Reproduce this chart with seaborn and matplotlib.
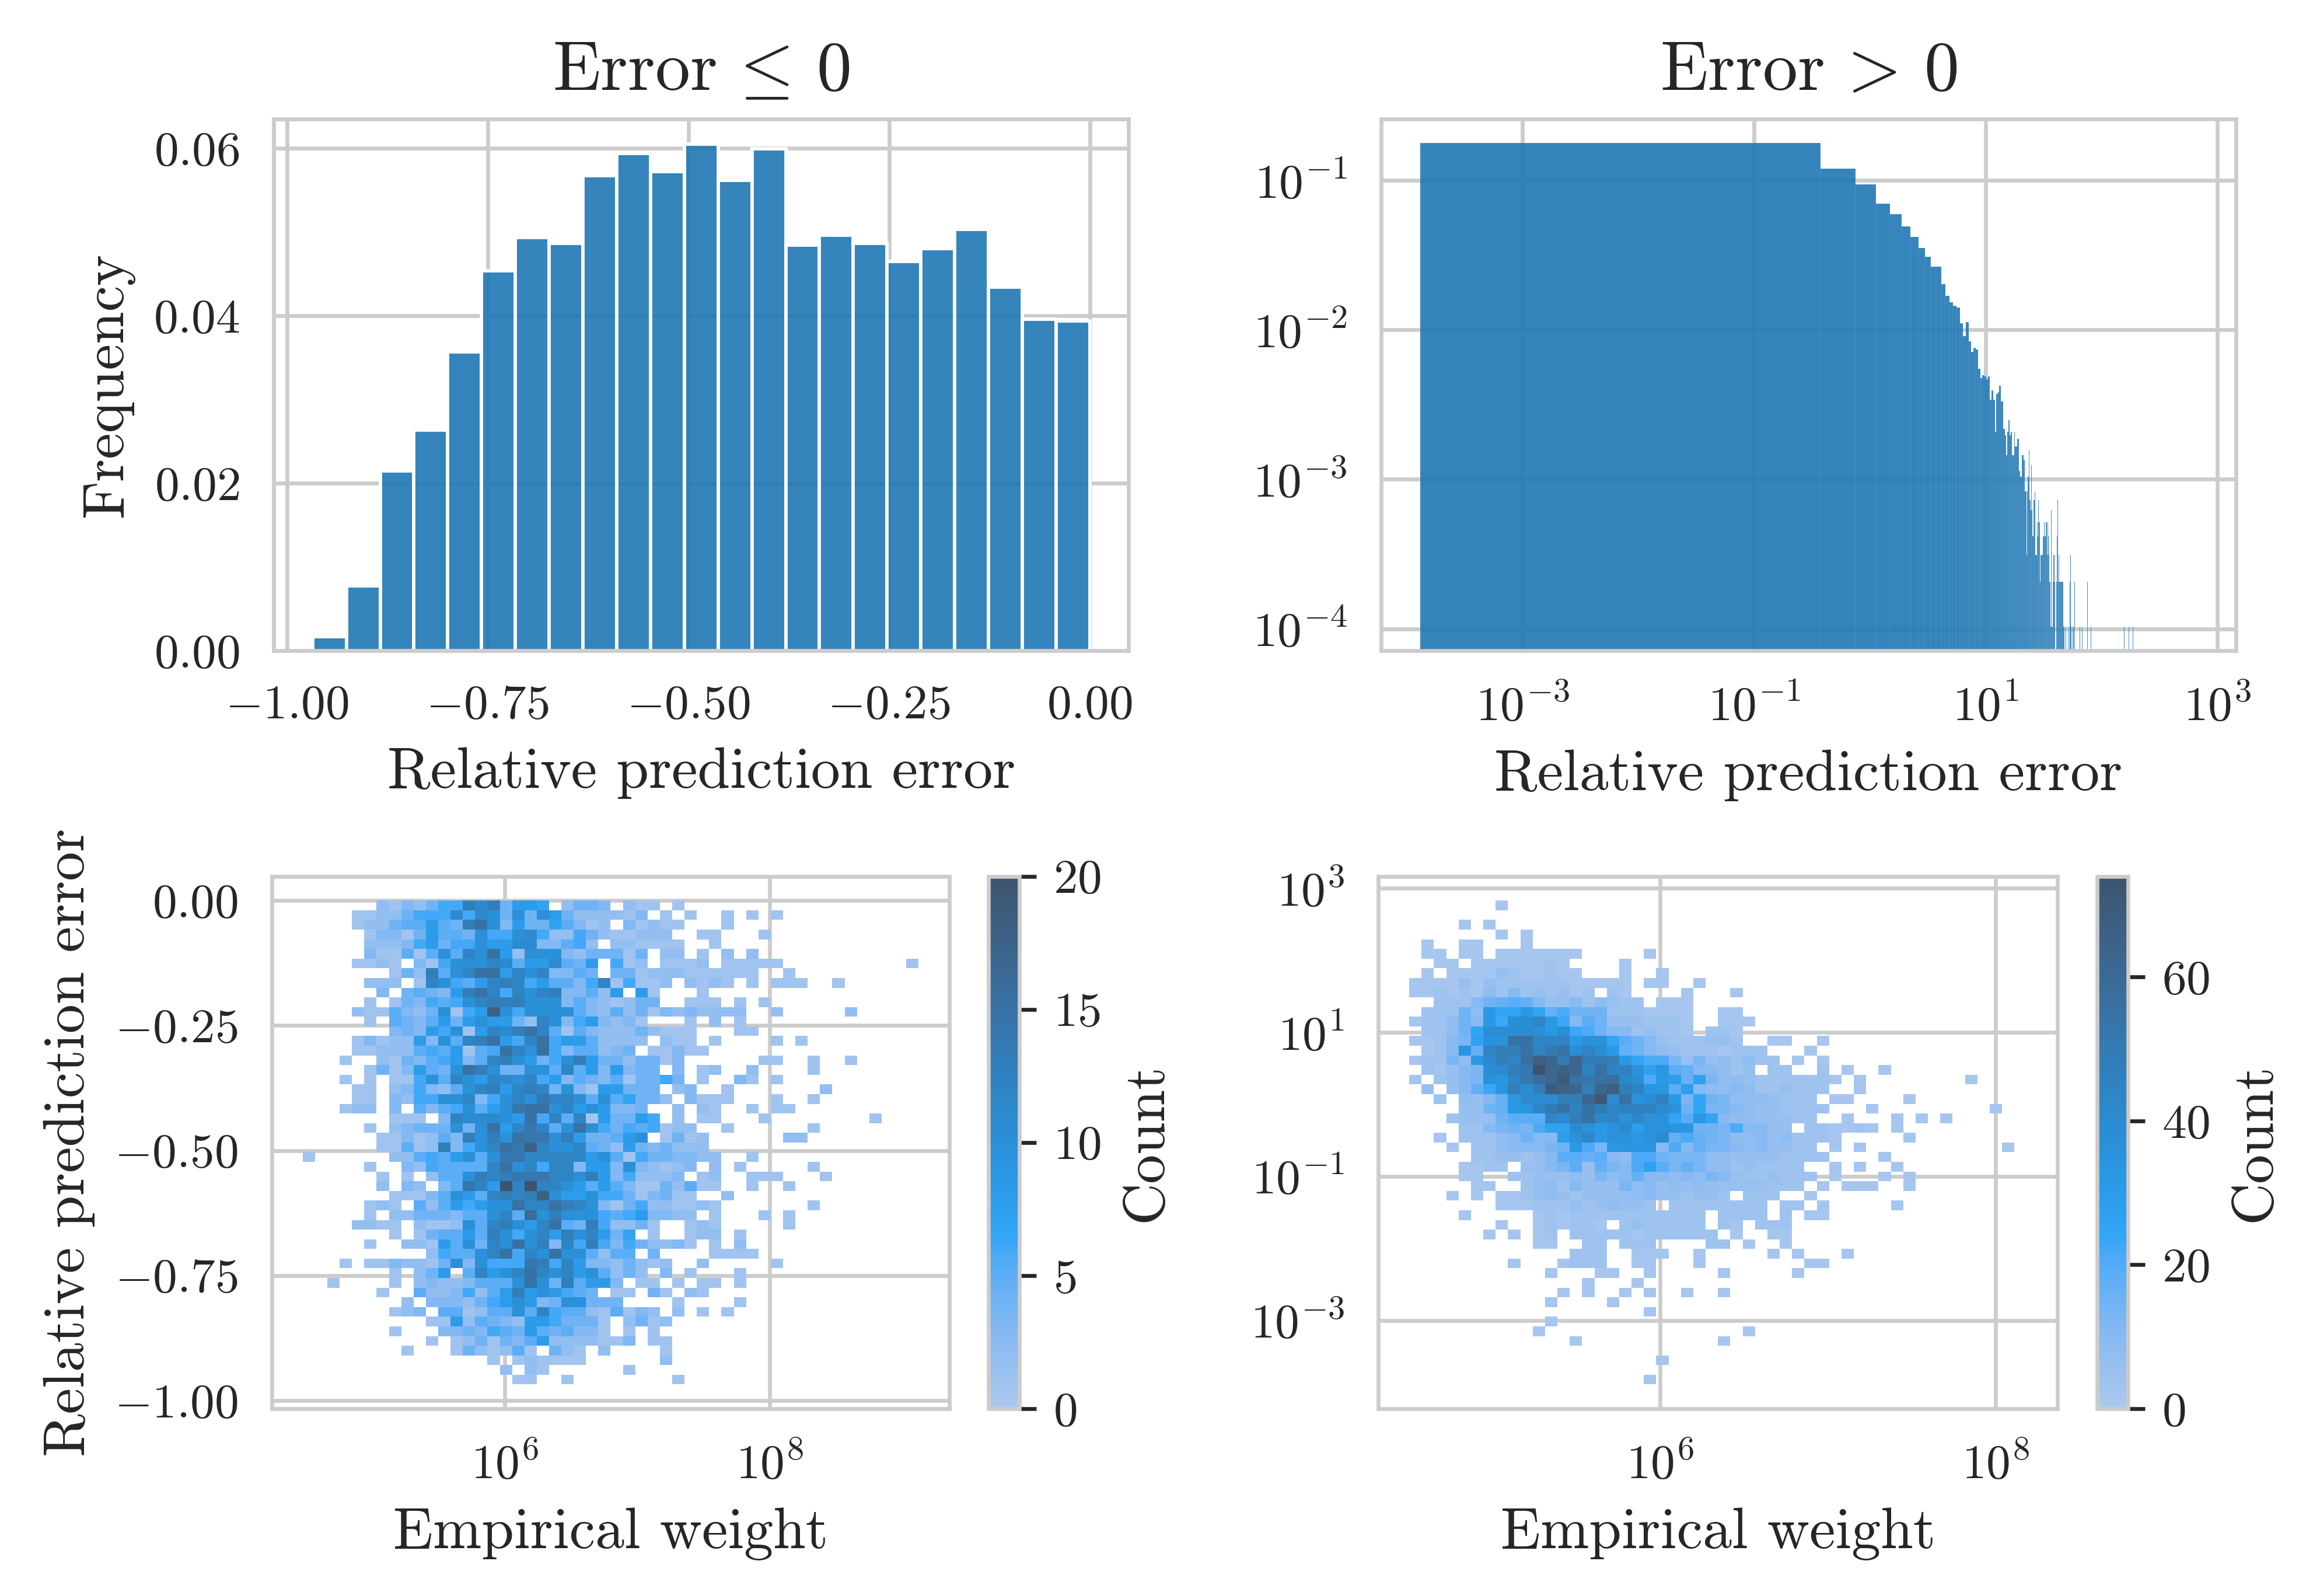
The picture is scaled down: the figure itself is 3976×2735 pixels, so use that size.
import numpy as np
import pandas as pd
import matplotlib
matplotlib.use("Agg")
import matplotlib.pyplot as plt
from matplotlib.ticker import LogLocator
import seaborn as sns

# ---------------------------------------------------------------
# Values
# ---------------------------------------------------------------

# Top left: relative error <= 0, 23 equal bins, share of samples per bin
neg_range = (-0.968, 0.0)
neg_freq = [0.0017, 0.0077, 0.0214, 0.0262, 0.0355, 0.0452, 0.0491, 0.0484,
            0.0565, 0.0591, 0.0570, 0.0602, 0.0559, 0.0597, 0.0482, 0.0494,
            0.0484, 0.0463, 0.0478, 0.0501, 0.0432, 0.0394, 0.0392]

# Top right: relative error > 0, linear bins drawn on log axes (counts per bin)
pos_range = (1.3e-4, 673.0)
pos_nbins = 1795
pos_counts_head = [
    1711, 1159, 906, 673, 575, 475, 403, 342, 297, 256, 255, 195, 163, 147,
    140, 136, 107, 88, 109, 81, 69, 73, 71, 53, 46, 48, 47, 45, 47, 33, 38,
    33, 20, 36, 37, 41, 32, 32, 21, 19, 14, 20, 24, 19, 20, 14, 14, 20, 16,
    16, 18, 18, 11, 10, 10, 14, 14, 13, 8, 8, 3, 8, 10, 15, 7, 6, 12, 6, 4,
    7, 7, 8, 3, 3, 5, 4, 7, 5, 5, 2, 3, 3, 3, 4, 4, 5, 4, 4, 5, 5, 3, 5, 4,
    4, 3, 2, 2, 1, 6, 1, 1, 2, 2, 3, 3, 2, 0, 0, 0, 2, 4, 4, 7, 2, 3, 3, 2,
    2, 2, 2, 2, 2, 2, 0, 2, 1, 0, 1, 0, 4, 0, 1]
pos_counts_tail = {139: 1, 142: 2, 144: 3, 146: 1, 151: 1, 153: 1, 156: 2,
                   159: 1, 165: 1, 174: 1, 177: 1, 179: 1, 181: 2, 182: 1,
                   202: 2, 217: 1, 220: 1, 223: 1, 226: 1, 233: 1, 260: 1,
                   266: 1, 294: 1, 328: 1, 381: 1, 420: 1, 461: 1, 500: 1,
                   560: 1, 650: 1, 750: 1, 900: 1, 1794: 1}

# Bottom left: 2D counts, 50 x 50 cells, top row first.
# x bins in log10(weight), y bins in relative error.
# Each row is "cols 0-25|cols 26-49", '.' = empty cell.
bl_xrange_log = (4.478, 9.124)
bl_yrange = (-0.968, 0.0)
bl_level_counts = {'1': 1, '2': 2, '3': 3, '4': 4, '5': 4, '6': 5, '7': 6,
                   '8': 7, '9': 8, 'a': 10, 'b': 11, 'c': 12, 'd': 13,
                   'e': 14, 'f': 15, 'g': 16, 'h': 18, 'k': 20}
bl_rows = [
    "......2132477dbd4998.2443.|211.1",
    "....11225777b7ba5a5a952222|13.1.1..1.1.1",
    "....122566965dfa395586312.|31211...1",
    ".....133149665a77ab7227521|1222..11...1",
    ".....222379477a99bb33672.2|21111..1",
    ".....311616a6caf92aaa32444|14.22.1.2.2",
    "....1121.317aaacb699b649.7|12.1112.11111..........1",
    ".......142d6acff9cac3365.4|51222111111..1",
    ".....222.1ca769cdc796637c1|7112.2121.1.111..1",
    "......3.46439dfc7cacd33629|.91...1",
    ".....1.143767acdddaaa36321|245..111.1.1",
    "....2116324a179ha7aaaa6326|2413232222..2.....2",
    ".....1.6436949a9942ca37932|31...1.2.1",
    ".......34397a19cbdfc616322|252111...11",
    "....1312293a6cdf97cf799622|22.211.1....1.1",
    "....112226769167fcaf736623|4.11311",
    "...1..214367936cda947ad944|24413......11..1..1",
    ".....1413964afda44aa6c6939|355.3.12..2....1",
    "...1.1.117a6ca9cbac7936436|14474.1..31.1",
    "....11.237326acd9cdc4a3199|454.23..1.......2",
    "....11.3277aac37acaecca6a6|8442.3111...1..1",
    "...122.3.6367a69aeffac9a93|35..2.21..1.11",
    ".......111.3cbbba9f7c6c194|497.2.11...1........1",
    ".....1.23444a4af9cec6afa74|767122..1......1",
    "......1131263dadafeead9446|9a.1412......22",
    "......11612d37acfehcaac642|9534222",
    "1......226769a6aeeccccc9a6|17453322..1",
    ".....1..3276666cfac7cc3993|a32123.2.1.....1",
    "......1.1.266adcdeeeccad93|72223.12..111...1",
    "......2.32.36ec9kckcca9696|31152611..1..1",
    ".......11136a96cdcdha99a77|513511..2",
    ".....121.626979aafccfdca31|57221121.......1",
    ".....1.22444366ac6gadaaa76|793322.1...1.1",
    "....2211.2112a6cda9cf64d72|251..121.....1",
    ".......1.146696da7ac9dac94|8.1..122.1",
    ".....1..22196a4cafad3c7d73|752231.1.2",
    "..........2766acf7cafaa626|6.4....1111",
    "...1.1132214a3a777ed7c9332|4212..2.....1",
    ".......1.249.6c9acfcac9a62|52.3.1...1",
    "..1....1.23223666afa4d6993|.11.1.11.1",
    "......1..62237269d9a9764.1|1.41.21",
    "........2.3332479a934aa444|....1....1",
    ".......123.661266a6c766216|132.2.1.1",
    "..........119264329974441.|2412",
    ".......1...33437649646331.|1.1",
    "..........1.12414369222211|3.11",
    "........1...1421261.421.2.|...1",
    "...............1.121111...|...2",
    "................2.21......|1",
    ".................11..1....|....1",
]

# Bottom right: 2D counts for positive errors, log10 bins on both axes.
# Cell count = base-36 digit * 2.1
br_xrange_log = (4.5045, 8.186)
br_yrange_log = (-3.888, 2.828)
br_level_scale = 2.1
br_rows = [
    ".......1|",
    "|",
    "....1.1|",
    ".......1.1|",
    ".1..11...1|",
    ".11.11.1111111.....1|",
    "..11.11111121....1|",
    ".1.11113211211...1..1|",
    "111131322222211111.11..1|",
    "112121425232312.21....1|1",
    "..22257898533524322.111|",
    ".22274fccfc8a7772221111..1|1",
    "122475fbiilfb5973332221..1|11",
    ".2247ciiiiifiba75523221.22|1",
    "11256dhhqqlllfhhc975322233|2..11..1",
    ".125g8lnnqloqilif875432221|222...1",
    "12264fjnlrwuouoonfcaa63634|2422.1.1",
    ".21356ijnpzuvumqlmhdg98554|23.22..2.1..1",
    "1.2356hglpruxqpqrkiafe8d64|432222221.1........1",
    ".3.358bgninxvunuwnlgg9e544|54223222..1",
    "..2.4358fjjjnntyjqhimf6c76|4443222.11....1",
    "....3378fgloqmqolmmmjh7c66|54332222...1.........1",
    "...23337999ljnqklhkhhc9fc5|4433322..1...1.1.1",
    "....225676addjhfhjehhgg776|a5533.221121.1",
    "..1.22245755ehkfhhfhj8a876|445342221.....1",
    "...1.22455567fa6fggg5a5866|5453322.1.1...........1",
    ".....2233235998954aa766644|33332222....1",
    "....1122.335693865ad968644|232222..1.1..1",
    "....11..223334364585545465|3223222.1...1.1",
    ".....11..23425333645343433|333222.1.111..1",
    "...1.1.1123432333345332332|.222..1",
    ".......1112223234332.22222|222.22.1.....1",
    "....1.....12122222222222.2|222.2.11",
    ".......1..121221.2322222.2|1.222",
    "......1.1.12.222221222222.|1..11",
    "..........11..22.222....22|.1..1",
    ".............222..111..1..|...1.1...1",
    "........1...1222..11...1..|......11",
    "...........1...11..1.....1|.....1",
    "..............1...1.......|",
    "............1.1..1.1..1..1|",
    "...........1....1.........|",
    "...................1......|",
    "...........1..............|",
    "..........1...............|.1",
    ".............1...........1|",
    "|",
    "....................1.....|",
    "|",
    "...................1......|",
]


def grid_cells(rows, x_edges, y_edges, to_count):
    # turn the cell grid into (x, y, weight) points at the cell centres
    xs, ys, ws = [], [], []
    n = len(rows)
    for r, row in enumerate(rows):
        left, right = row.split("|")
        row = left.ljust(26, ".")[:26] + right.ljust(24, ".")[:24]
        for c, ch in enumerate(row):
            if ch == ".":
                continue
            xs.append((x_edges[c] + x_edges[c + 1]) / 2)
            ys.append((y_edges[n - 1 - r] + y_edges[n - r]) / 2)
            ws.append(to_count(ch))
    return np.array(xs), np.array(ys), np.array(ws, dtype=float)


# ---------------------------------------------------------------
# Style
# ---------------------------------------------------------------
sns.set_style("whitegrid")
plt.rcParams["font.family"] = "serif"
plt.rcParams["font.serif"] = ["cmr10"]
plt.rcParams["mathtext.fontset"] = "cm"
plt.rcParams["axes.formatter.use_mathtext"] = True
plt.rcParams["font.size"] = 12
plt.rcParams["axes.titlesize"] = 14.4
plt.rcParams["axes.labelsize"] = 12
plt.rcParams["xtick.labelsize"] = 10
plt.rcParams["ytick.labelsize"] = 10

fig = plt.figure(figsize=(3976 / 600, 2735 / 600), dpi=600)
ax_neg = fig.add_axes([0.1180, 0.5923, 0.3685, 0.3331])
ax_pos = fig.add_axes([0.5953, 0.5923, 0.3685, 0.3331])
ax_bl = fig.add_axes([0.1172, 0.1174, 0.2920, 0.3335])
cax_bl = fig.add_axes([0.4261, 0.1174, 0.0133, 0.3335])
ax_br = fig.add_axes([0.5941, 0.1174, 0.2928, 0.3335])
cax_br = fig.add_axes([0.9039, 0.1174, 0.0133, 0.3335])

# 1. negative errors
edges = np.linspace(neg_range[0], neg_range[1], len(neg_freq) + 1)
neg_df = pd.DataFrame({"err": (edges[:-1] + edges[1:]) / 2, "freq": neg_freq})
sns.histplot(data=neg_df, x="err", weights="freq", bins=edges.tolist(),
             stat="probability", color="tab:blue", alpha=0.9, ax=ax_neg)
ax_neg.set_title(r"Error$\,\leq\,$0")
ax_neg.set_xlabel("Relative prediction error")
ax_neg.set_ylabel("Frequency")

# 2. positive errors on log-log axes
pos_counts = np.zeros(pos_nbins)
pos_counts[:len(pos_counts_head)] = pos_counts_head
for k, v in pos_counts_tail.items():
    pos_counts[k] = v
edges = np.linspace(pos_range[0], pos_range[1], pos_nbins + 1)
pos_df = pd.DataFrame({"err": (edges[:-1] + edges[1:]) / 2, "n": pos_counts})
sns.histplot(data=pos_df, x="err", weights="n", bins=edges.tolist(),
             stat="probability", color="tab:blue", alpha=0.9, ax=ax_pos)
ax_pos.set_xscale("log")
ax_pos.set_yscale("log")
ax_pos.set_title(r"Error$\,>\,$0")
ax_pos.set_xlabel("Relative prediction error")
ax_pos.set_ylabel("")

# 3. weight vs negative error
bl_xedges = np.linspace(*bl_xrange_log, 51)
bl_yedges = np.linspace(*bl_yrange, 51)
xs, ys, ws = grid_cells(bl_rows, bl_xedges, bl_yedges,
                        lambda ch: bl_level_counts[ch])
bl_df = pd.DataFrame({"w": 10 ** xs, "err": ys, "n": ws})
sns.histplot(data=bl_df, x="w", y="err", weights="n",
             bins=[bl_xedges.tolist(), bl_yedges.tolist()],
             log_scale=(True, False), color="tab:blue", cbar=True,
             cbar_ax=cax_bl, cbar_kws={"label": "Count"}, ax=ax_bl)
ax_bl.set_xlabel("Empirical weight")
ax_bl.set_ylabel("Relative prediction error")

# 4. weight vs positive error
br_xedges = np.linspace(*br_xrange_log, 51)
br_yedges = np.linspace(*br_yrange_log, 51)
xs, ys, ws = grid_cells(br_rows, br_xedges, br_yedges,
                        lambda ch: round(int(ch, 36) * br_level_scale))
br_df = pd.DataFrame({"w": 10 ** xs, "err": 10 ** ys, "n": ws})
sns.histplot(data=br_df, x="w", y="err", weights="n",
             bins=[br_xedges.tolist(), br_yedges.tolist()],
             log_scale=(True, True), color="tab:blue", cbar=True,
             cbar_ax=cax_br, cbar_kws={"label": "Count"}, ax=ax_br)
ax_br.xaxis.set_major_locator(LogLocator(base=100))  # every other decade
ax_br.set_xlabel("Empirical weight")
ax_br.set_ylabel("")

fig.savefig("out.png", dpi=600, facecolor="white")
